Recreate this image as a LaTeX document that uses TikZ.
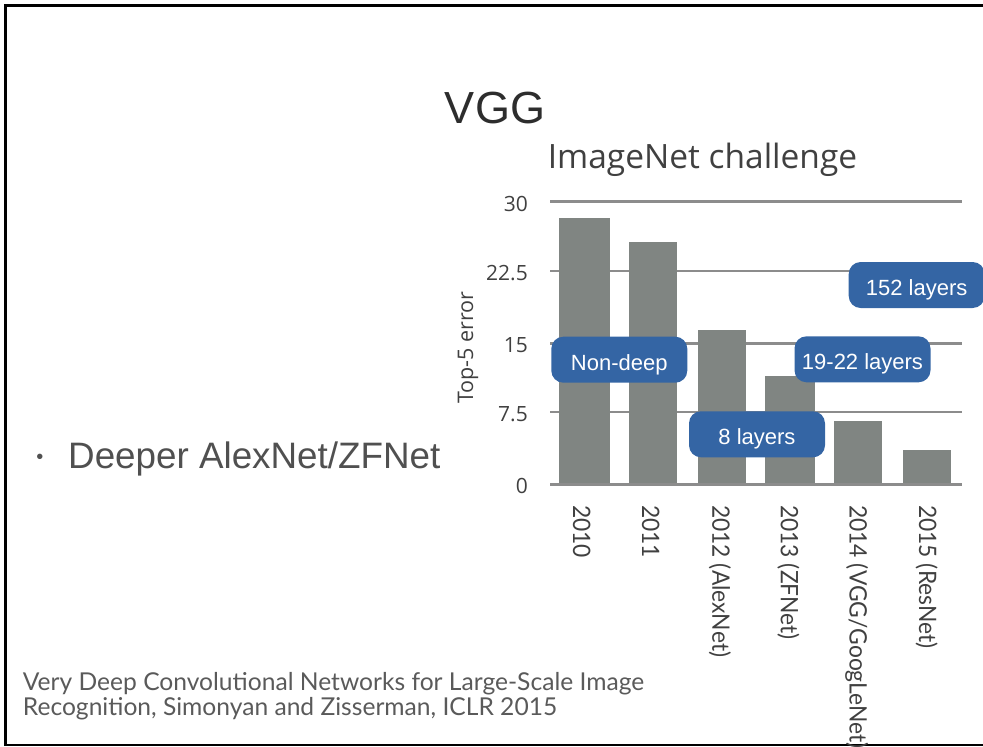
\documentclass[tikz,border=0pt]{standalone}
\usepackage{fontspec}
\setmainfont{Liberation Sans}
\newfontfamily\comicf{Open Sans}
\newfontfamily\gillf{Lato}
\definecolor{barc}{RGB}{128,133,130}
\definecolor{gridc}{RGB}{140,140,140}
\definecolor{boxblue}{RGB}{52,101,164}
\definecolor{darktxt}{RGB}{45,45,45}
\definecolor{midtxt}{RGB}{64,64,64}
\definecolor{bultxt}{RGB}{80,80,80}
\definecolor{citetxt}{RGB}{90,90,90}
\newcommand{\yrtxt}[1]{\scalebox{0.95}[1]{#1}}
\tikzset{
  gridline/.style={draw=gridc, line width=2.7pt},
  bar/.style={fill=barc},
  lbl/.style={fill=boxblue, rounded corners=12pt, minimum width=136pt, minimum height=46pt,
    inner sep=0pt, text=white, font=\fontsize{22}{26}\selectfont, text height=21pt, text depth=0pt},
  ticklbl/.style={anchor=east, inner sep=0pt, text=midtxt, font=\comicf\fontsize{21}{25}\selectfont},
  yearlbl/.style={anchor=west, rotate=-90, inner sep=0pt, text=midtxt, font=\gillf\fontsize{24}{28}\selectfont},
  citelbl/.style={anchor=base west, inner sep=0pt, text=citetxt, font=\gillf\fontsize{24.6}{28}\selectfont},
  framestyle/.style={draw=black, line width=2.8pt}
}
\begin{document}
\begin{tikzpicture}[x=1pt,y=-1pt]
\useasboundingbox (0,0) rectangle (983,747);
% frame
\coordinate (f1) at (990,5.8);
\coordinate (f2) at (5.5,5.8);
\coordinate (f3) at (5.5,745);
\coordinate (f4) at (990,745);
\draw[framestyle] (f1) -- (f2) -- (f3) -- (f4);
% titles
\node[inner sep=0pt, text=darktxt, font=\fontsize{45}{54}\selectfont] (title) at (495,108) {VGG};
\node[anchor=base, inner sep=0pt, text=midtxt, font=\comicf\fontsize{33.5}{38}\selectfont] (sub) at (702.5,168) {ImageNet challenge};
% grid
\foreach \y/\n in {201.7/g30, 271/g225, 343.3/g15, 412/g75} {
  \coordinate (\n a) at (550,\y);
  \coordinate (\n b) at (961.7,\y);
  \draw[gridline] (\n a) -- (\n b);
}
% bars
\fill[bar] (559.3,484.3) rectangle (610,218.3);
\fill[bar] (628.7,484.3) rectangle (676.7,242.3);
\fill[bar] (698.3,484.3) rectangle (746,330);
\fill[bar] (765,484.3) rectangle (815,375.7);
\fill[bar] (834.3,484.3) rectangle (882.3,420.7);
\fill[bar] (903.3,484.3) rectangle (951.3,450);
% baseline
\coordinate (g0a) at (550,484.3);
\coordinate (g0b) at (961.7,484.3);
\draw[gridline] (g0a) -- (g0b);
% tick labels
\node[ticklbl] (t30) at (528,203.5) {30};
\node[ticklbl] (t225) at (528,273) {22.5};
\node[ticklbl] (t15) at (528,345.3) {15};
\node[ticklbl] (t75) at (528,414.5) {7.5};
\node[ticklbl] (t0) at (528,486.3) {0};
\node[rotate=90, inner sep=0pt, text=midtxt, font=\comicf\fontsize{21.5}{25}\selectfont] (ylab) at (468,347.5) {Top-5 error};
% year labels
\node[yearlbl] (y10) at (581.7,505) {\yrtxt{2010}};
\node[yearlbl] (y11) at (650.7,505) {\yrtxt{2011}};
\node[yearlbl] (y12) at (720,505) {\yrtxt{2012 (AlexNet)}};
\node[yearlbl] (y13) at (788.3,505) {\yrtxt{2013 (ZFNet)}};
\node[yearlbl] (y14) at (856.7,505) {\yrtxt{2014 (VGG/GoogLeNet)}};
\node[yearlbl] (y15) at (926.7,505) {\yrtxt{2015 (ResNet)}};
% boxes
\node[lbl] (nondeep) at (619.3,359.7) {Non-deep};
\node[lbl] (eight) at (757,434.3) {8 layers};
\node[lbl] (nineteen) at (862.5,359.3) {19-22 layers};
\node[lbl] (hundred) at (916.7,285) {152 layers};
% bullet
\node[inner sep=0pt, text=bultxt, font=\fontsize{20}{24}\selectfont] (bul) at (40,459) {\textbullet};
\node[anchor=base west, inner sep=0pt, text=bultxt, font=\fontsize{36.8}{42}\selectfont] (deeper) at (68,468.3) {Deeper AlexNet/ZFNet};
% citation
\node[citelbl] (cite1) at (22.7,690) {Very Deep Convolutional Networks for Large-Scale Image};
\node[citelbl] (cite2) at (22.7,715) {Recognition, Simonyan and Zisserman, ICLR 2015};
\end{tikzpicture}
\end{document}
